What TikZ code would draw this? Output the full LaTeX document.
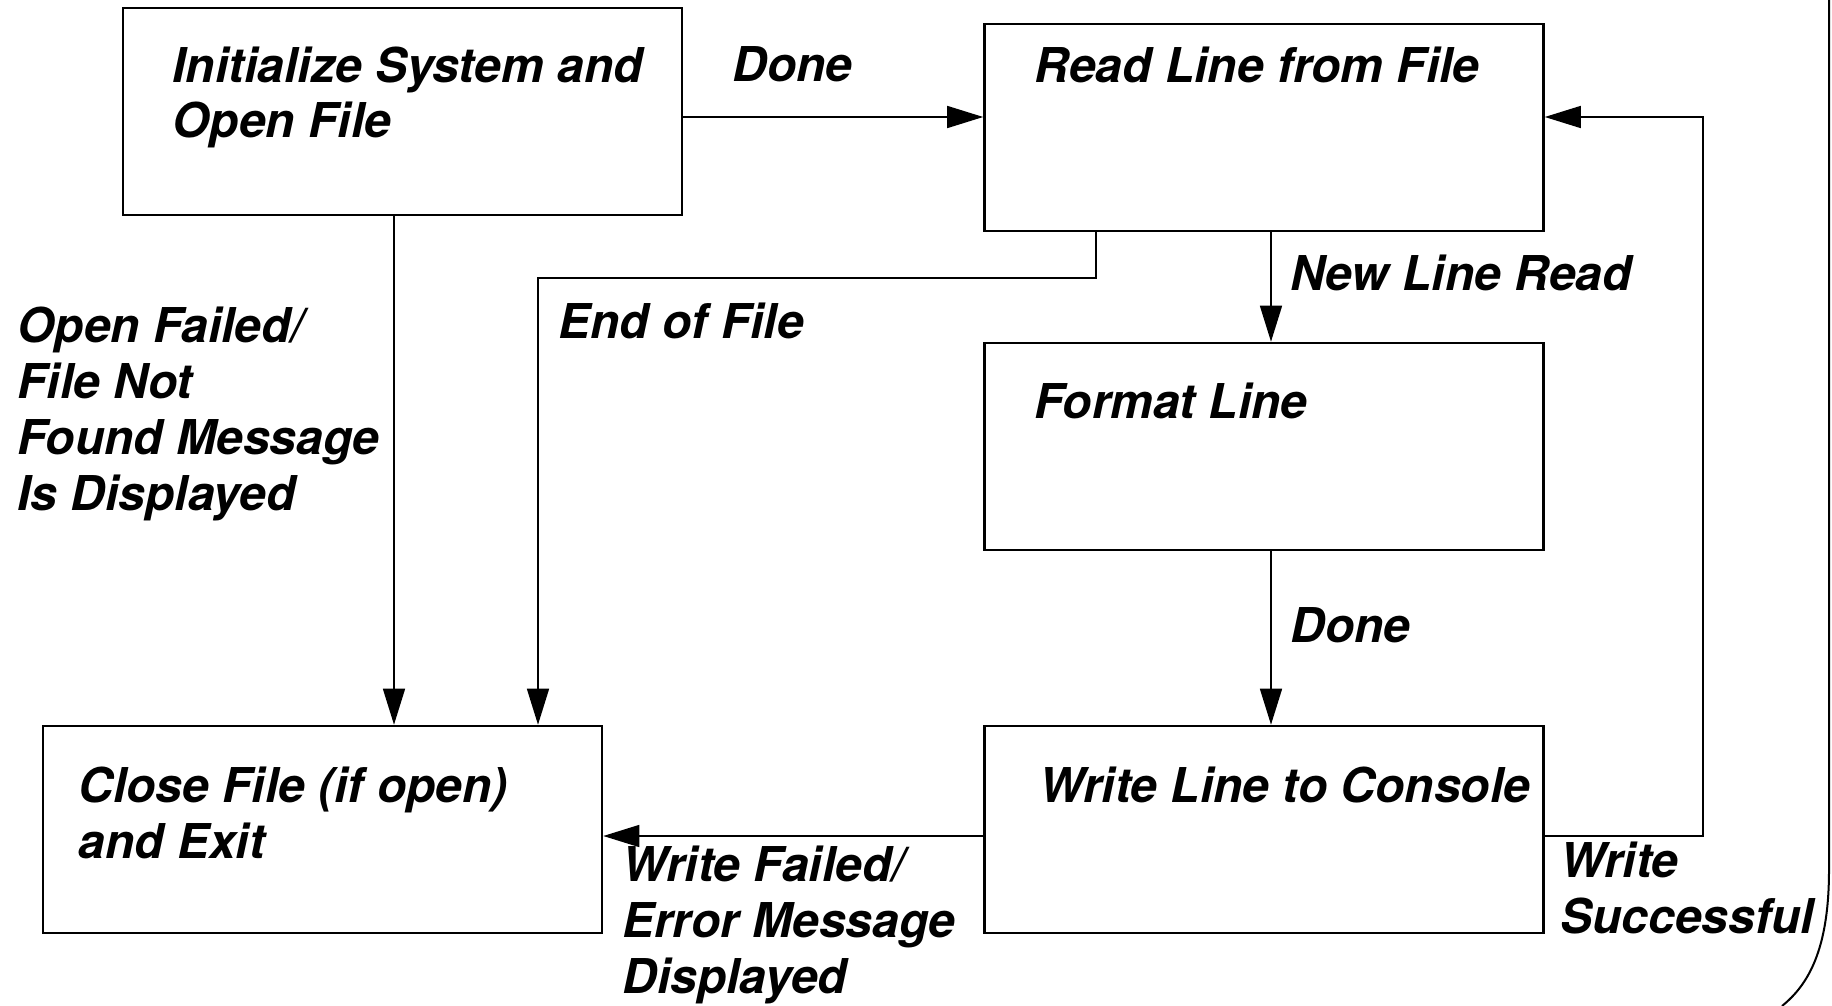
\documentclass[tikz,border=0pt]{standalone}
\usepackage{fontspec}
\setmainfont{TeX Gyre Heros}
\usetikzlibrary{arrows.meta}

\begin{document}
\begin{tikzpicture}[x=0.5pt, y=-0.5pt,
    state/.style={draw, line width=1.3pt, minimum width=279.5pt, minimum height=103.5pt, inner sep=0pt},
    txt/.style={anchor=base west, align=left, inner sep=0pt, font=\fontsize{24}{28}\selectfont\bfseries\itshape},
    flow/.style={line width=0.8pt, -{Triangle[length=18pt,width=11pt]}}]
  \useasboundingbox (0,0) rectangle (1832,1006);
  % stati
  \node[state] (init) at (402.5,111.5) {};
  \node[state] (read) at (1264,127.5) {};
  \node[state] (format) at (1264,446.5) {};
  \node[state] (write) at (1264,829.5) {};
  \node[state] (close) at (322.5,829.5) {};
  % testi dentro gli stati (base = ultima riga)
  \node[txt] (initT) at (172,138) {Initialize System and\\Open File};
  \node[txt] (readT) at (1034,83) {Read Line from File};
  \node[txt] (formatT) at (1034,418) {Format Line};
  \node[txt] (writeT) at (1039,802) {Write Line to Console};
  \node[txt] (closeT) at (78,858) {Close File (if open)\\and Exit};
  % punti di appoggio
  \coordinate (done) at (0,117);
  \coordinate (fail) at (394,0);
  \coordinate (mid) at (1271,0);
  \coordinate (eof) at (1096,278);
  \coordinate (eofc) at (538,278);
  \coordinate (wf) at (0,836);
  \coordinate (ret) at (1703,836);
  % transizioni
  \draw[flow] (init.east |- done) -- (read.west |- done);
  \draw[flow] (init.south -| fail) -- (close.north -| fail);
  \draw[flow] (read.south -| eof) -- (eof) -- (eofc) -- (close.north -| eofc);
  \draw[flow] (read.south -| mid) -- (format.north -| mid);
  \draw[flow] (format.south -| mid) -- (write.north -| mid);
  \draw[flow] (write.west |- wf) -- (close.east |- wf);
  \draw[flow] (write.east |- wf) -- (ret) -- (ret |- done) -- (read.east |- done);
  % etichette
  \node[txt] (lDone) at (732,82) {Done};
  \node[txt] (lNew) at (1290,290) {New Line Read};
  \node[txt] (lEof) at (558,338) {End of File};
  \node[txt] (lOpen) at (17,510) {Open Failed/\\File Not\\Found Message\\Is Displayed};
  \node[txt] (lDone2) at (1290,642) {Done};
  \node[txt] (lFail) at (622,993) {Write Failed/\\Error Message\\Displayed};
  \node[txt] (lOk) at (1560,933) {Write\\Successful};
  % bordo
  \draw[line width=1pt] (1829,0) -- (1829,870) .. controls (1829,950) and (1808,985) .. (1782,1006);
\end{tikzpicture}
\end{document}
